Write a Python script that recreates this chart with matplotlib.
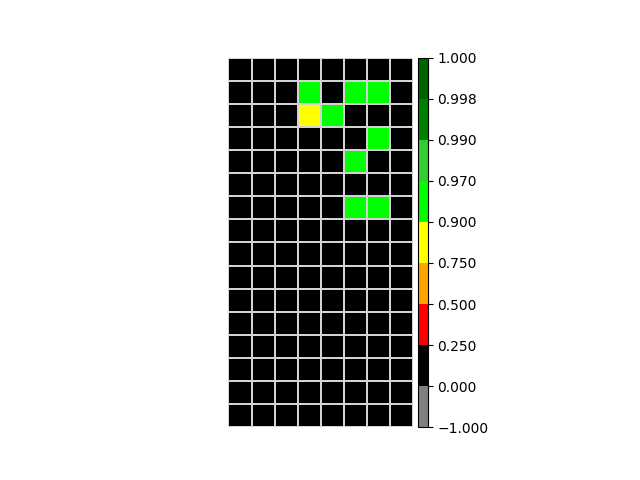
import numpy as np
import matplotlib
matplotlib.use("Agg")
import matplotlib.pyplot as plt
from matplotlib.colors import ListedColormap, BoundaryNorm
from mpl_toolkits.axes_grid1 import make_axes_locatable

bounds = [-1.0, 0.0, 0.25, 0.5, 0.75, 0.9, 0.97, 0.99, 0.998, 1.0]
colors = ["gray", "black", "red", "orange", "yellow", "lime", "limegreen", "green", "darkgreen"]

values = [
    [0, 0, 0, 0, 0, 0, 0, 0],
    [0, 0, 0, 0.93, 0, 0.93, 0.93, 0],
    [0, 0, 0, 0.8, 0.93, 0, 0, 0],
    [0, 0, 0, 0, 0, 0, 0.93, 0],
    [0, 0, 0, 0, 0, 0.93, 0, 0],
    [0, 0, 0, 0, 0, 0, 0, 0],
    [0, 0, 0, 0, 0, 0.93, 0.93, 0],
    [0, 0, 0, 0, 0, 0, 0, 0],
    [0, 0, 0, 0, 0, 0, 0, 0],
    [0, 0, 0, 0, 0, 0, 0, 0],
    [0, 0, 0, 0, 0, 0, 0, 0],
    [0, 0, 0, 0, 0, 0, 0, 0],
    [0, 0, 0, 0, 0, 0, 0, 0],
    [0, 0, 0, 0, 0, 0, 0, 0],
    [0, 0, 0, 0, 0, 0, 0, 0],
    [0, 0, 0, 0, 0, 0, 0, 0],
]

data = np.array(values)
cmap = ListedColormap(colors)
norm = BoundaryNorm(bounds, cmap.N)

fig, ax = plt.subplots(figsize=(6.4, 4.8), dpi=100)
mesh = ax.pcolormesh(data, cmap=cmap, norm=norm, edgecolors="lightgray", linewidth=1.2)
ax.set_aspect("equal")
ax.invert_yaxis()
ax.set_xticks([])
ax.set_yticks([])
for s in ax.spines.values():
    s.set_visible(False)

divider = make_axes_locatable(ax)
cax = divider.append_axes("right", size="5%", pad=0.05)
cb = fig.colorbar(mesh, cax=cax, ticks=bounds)

fig.savefig("out.png", dpi=100)
